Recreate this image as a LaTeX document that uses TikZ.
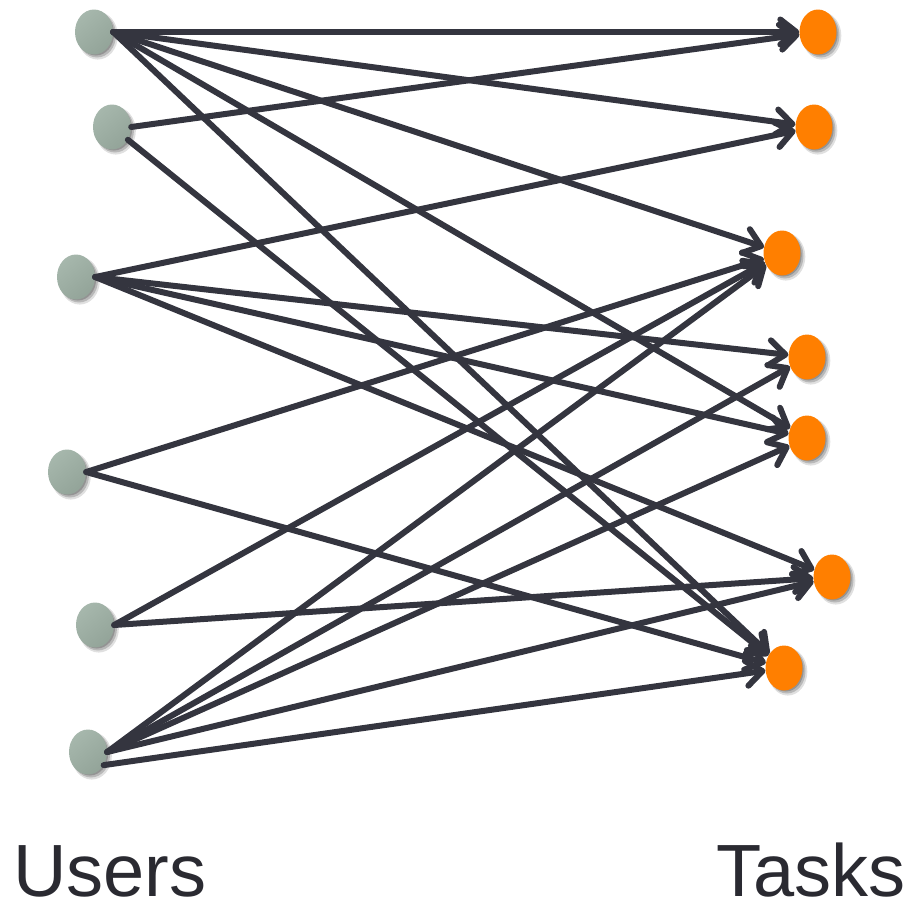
\documentclass[tikz,border=0pt]{standalone}
\usepackage{fontspec}
\setmainfont{Liberation Sans}
\usetikzlibrary{arrows.meta,shapes.geometric,shadows}

\definecolor{userlight}{HTML}{A6B7AC}
\definecolor{userdark}{HTML}{93A499}
\definecolor{taskorange}{HTML}{FF7F00}
\definecolor{edgeink}{HTML}{34353F}
\definecolor{labelink}{HTML}{2A2A31}

\tikzset{
  softshadow/.style={
    drop shadow={shadow xshift=3.5pt,shadow yshift=-3.5pt,shadow scale=1.06,opacity=0.12,fill=black},
    drop shadow={shadow xshift=3pt,shadow yshift=-3pt,opacity=0.18,fill=black},
    drop shadow={shadow xshift=2pt,shadow yshift=-2pt,shadow scale=0.96,opacity=0.2,fill=black}
  },
  usernode/.style={ellipse, inner sep=0pt, minimum width=38pt, minimum height=45pt,
    softshadow, top color=userlight, bottom color=userdark, shading angle=40},
  tasknode/.style={ellipse, inner sep=0pt, minimum width=37pt, minimum height=45pt,
    softshadow, fill=taskorange},
  link/.style={draw=edgeink, line width=6pt, line cap=round, line join=round,
    -{Straight Barb[length=16pt,width=25pt,round]}},
  caption/.style={text=labelink, font=\fontsize{74}{74}\selectfont, inner sep=0pt}
}

\begin{document}
\begin{tikzpicture}[x=1pt,y=-1pt]
  \useasboundingbox (0,0) rectangle (913,911);

  % users
  \node[usernode] (u1) at (94,32) {};
  \node[usernode] (u2) at (112,127) {};
  \node[usernode] (u3) at (76,277) {};
  \node[usernode] (u4) at (67,472) {};
  \node[usernode] (u5) at (95,625) {};
  \node[usernode] (u6) at (88,752) {};

  % tasks
  \node[tasknode] (t1) at (818,32) {};
  \node[tasknode] (t2) at (814,127) {};
  \node[tasknode] (t3) at (782,253) {};
  \node[tasknode] (t4) at (807,357) {};
  \node[tasknode] (t5) at (807,438) {};
  \node[tasknode] (t6) at (832,577) {};
  \node[tasknode] (t7) at (784,668) {};

  % assignments
  \draw[link] (u1.east) -- (t1);
  \draw[link] (u1.east) -- (t2);
  \draw[link] (u1.east) -- (t3);
  \draw[link] (u1.east) -- (t5);
  \draw[link] (u1.east) -- (t7);

  \draw[link] (u2.east) -- (t1);
  \draw[link] (u2) -- (t7);

  \draw[link] (u3.east) -- (t2);
  \draw[link] (u3.east) -- (t4);
  \draw[link] (u3.east) -- (t5);
  \draw[link] (u3.east) -- (t6);

  \draw[link] (u4.east) -- (t3);
  \draw[link] (u4.east) -- (t7);

  \draw[link] (u5.east) -- (t3);
  \draw[link] (u5.east) -- (t6);

  \draw[link] (u6.east) -- (t3);
  \draw[link] (u6.east) -- (t4);
  \draw[link] (u6.east) -- (t5);
  \draw[link] (u6.east) -- (t6);
  \draw[link] (u6.-40) -- (t7);

  % column captions
  \node[caption, anchor=base west] (userslabel) at (13,896) {Users};
  \node[caption, anchor=base east] (taskslabel) at (906,896) {Tasks};
\end{tikzpicture}
\end{document}
